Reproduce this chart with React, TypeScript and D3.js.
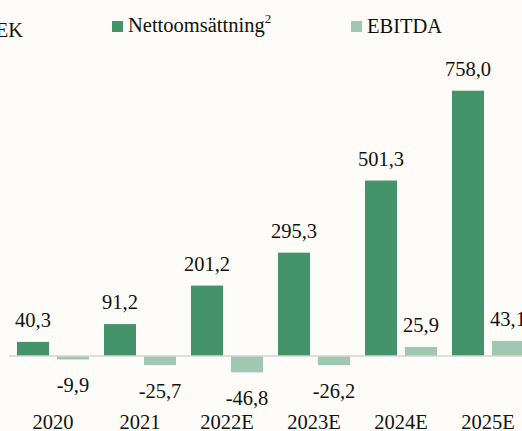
import React from "react";
import * as d3 from "d3";

const years = ["2020", "2021", "2022E", "2023E", "2024E", "2025E"];
const nettoomsattning = [40.3, 91.2, 201.2, 295.3, 501.3, 758.0];
const ebitda = [-9.9, -25.7, -46.8, -26.2, 25.9, 43.1];
const seriesKeys = ["netto", "ebitda"];
const seriesColors = ["#45936a", "#a0c8b0"];

const W = 522;
const H = 431;
const FONT = "Liberation Serif, Tinos, Times New Roman, DejaVu Serif, serif";

export default function App() {
  const x0 = d3.scaleBand<string>().domain(years).range([9.5, 531.5]).paddingInner(15 / 87).paddingOuter(7.5 / 87);
  const x1 = d3.scaleBand<string>().domain(seriesKeys).range([0, x0.bandwidth()]).paddingInner(0.2).paddingOuter(0);
  const y = d3.scaleLinear().domain([0, 800]).range([356, 76]);
  const fmt = (v: number) => d3.format(".1f")(v).replace(".", ",").replace("\u2212", "-");

  const rows = years.map((yr, i) => ({ yr, vals: [nettoomsattning[i], ebitda[i]] }));

  return (
    <svg
      width={W}
      height={H}
      style={{ position: "absolute", left: 0, top: 0, background: "#fdfcf8", fontFamily: FONT }}
    >
      <rect x={0} y={0} width={W} height={H} fill="#fdfcf8" />
      {/* unit label */}
      <text x={23} y={37} textAnchor="end" fontSize={20.5} fill="#111">MSEK</text>
      {/* legend */}
      <rect x={112} y={21} width={11} height={11} fill={seriesColors[0]} />
      <text x={128} y={32} fontSize={20.5} fill="#111">
        Nettoomsättning
        <tspan fontSize={13} dy={-9}>2</tspan>
      </text>
      <rect x={351} y={21} width={11} height={11} fill={seriesColors[1]} />
      <text x={367} y={33} fontSize={20.5} fill="#111">EBITDA</text>

      {rows.map((r) => (
        <g key={r.yr} transform={`translate(${x0(r.yr)},0)`}>
          {r.vals.map((v, j) => {
            const bx = x1(seriesKeys[j])!;
            const bw = x1.bandwidth();
            const top = v >= 0 ? y(v) : y(0);
            const h = Math.abs(y(v) - y(0));
            const ly = v >= 0 ? y(v) - 15 : y(v) + 33;
            return (
              <g key={j}>
                <rect x={bx} y={top} width={bw} height={h} fill={seriesColors[j]} />
                <text x={bx + bw / 2} y={ly} textAnchor="middle" fontSize={20.5} fill="#111">
                  {fmt(v)}
                </text>
              </g>
            );
          })}
          <text x={x0.bandwidth() / 2} y={429} textAnchor="middle" fontSize={20.5} fill="#111">
            {r.yr}
          </text>
        </g>
      ))}
      <line x1={9} x2={531} y1={y(0)} y2={y(0)} stroke="#d4d4d4" strokeWidth={1.5} />
    </svg>
  );
}
